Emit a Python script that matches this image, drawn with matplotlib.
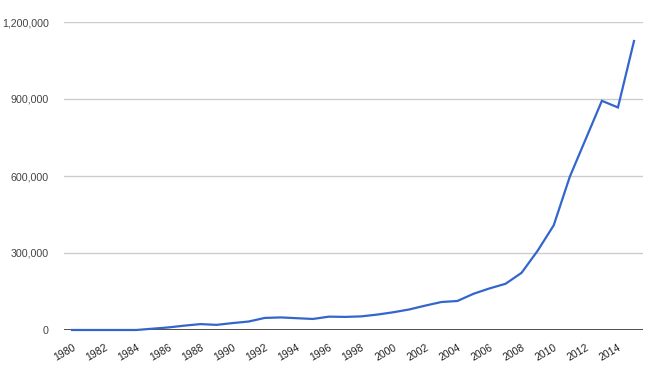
import matplotlib
matplotlib.use("Agg")
import matplotlib.pyplot as plt
from matplotlib.ticker import FuncFormatter

years = list(range(1980, 2016))
values = [0, 0, 0, 0, 0, 5000, 10000, 17000, 23000, 20000,
          27000, 33000, 47000, 49000, 46000, 43000, 52000, 51000, 53000, 60000,
          69000, 80000, 95000, 109000, 113000, 141000, 162000, 180000, 223000, 309000,
          408000, 597000, 745000, 893000, 867000, 1126000]
tick_years = list(range(1980, 2015, 2))
y_ticks = [0, 300000, 600000, 900000, 1200000]

plt.rcParams['font.family'] = ['Liberation Sans', 'DejaVu Sans']
fig = plt.figure(figsize=(6.5, 3.75), dpi=100)
W, H = 650, 375
ax = fig.add_axes([64 / W, 1 - 330 / H, (643 - 64) / W, (330 - 22) / H])

ax.plot(years, values, color='#3366CC', lw=1.6, solid_joinstyle='miter', clip_on=False, zorder=3)
ax.set_xlim(1979.5, 2015.56)
ax.set_ylim(0, 1200000)

for s in ax.spines.values():
    s.set_visible(False)
ax.set_yticks(y_ticks)
ax.yaxis.set_major_formatter(FuncFormatter(lambda v, p: f"{int(v):,}"))
ax.grid(axis='y', color='#CCCCCC', lw=1.0, zorder=0)
ax.axhline(0, color='#333333', lw=1.2, zorder=2)
ax.tick_params(axis='y', length=0, pad=11, labelsize=7.7, labelcolor='#444444')

ax.set_xticks(tick_years)
ax.set_xticklabels([str(y) for y in tick_years], rotation=30, ha='right', va='top',
                   rotation_mode='anchor', fontsize=7.5, color='#222222')
ax.tick_params(axis='x', length=0, pad=9)

fig.savefig('out.png', dpi=100, facecolor='white')
